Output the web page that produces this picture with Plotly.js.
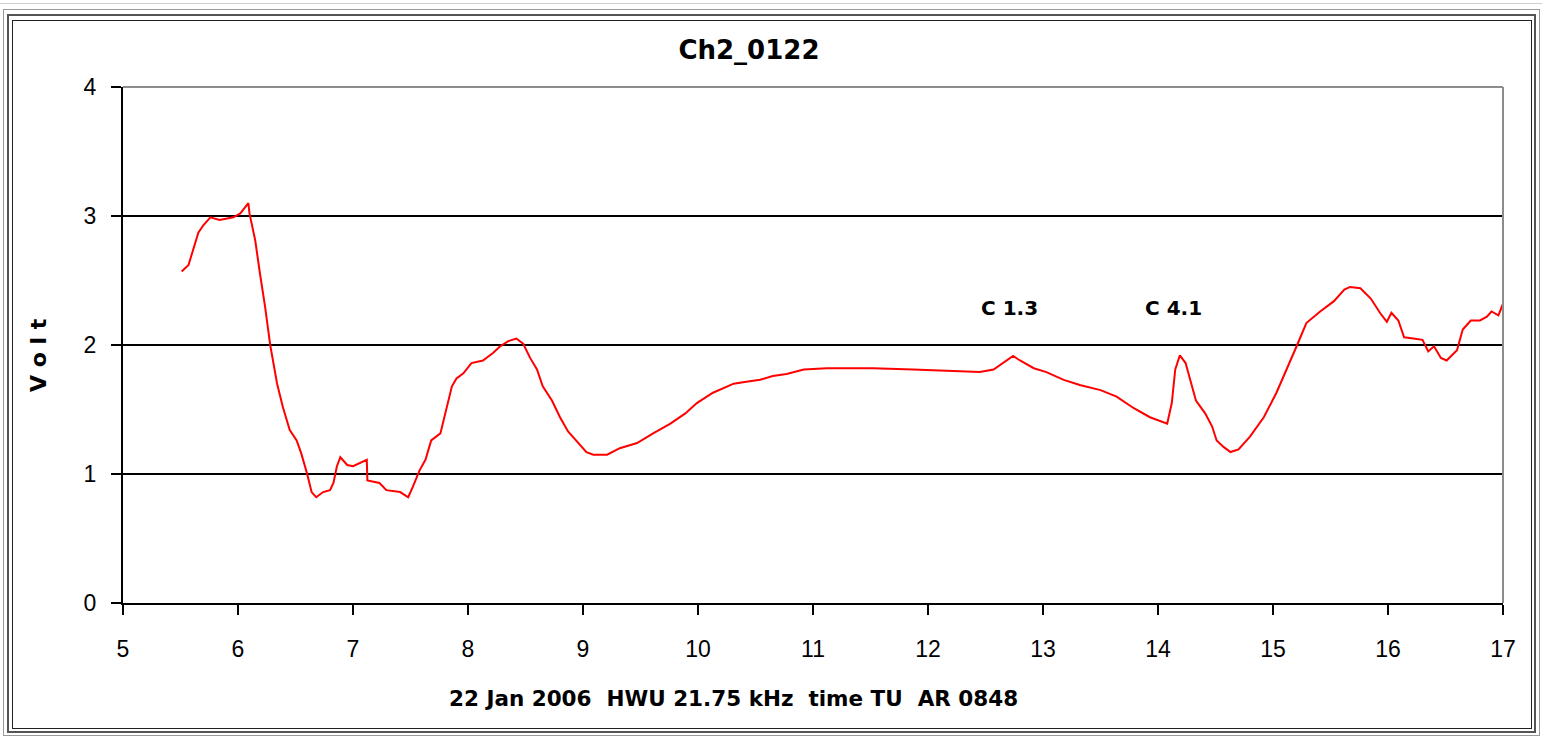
<!DOCTYPE html>
<html>
<head>
<meta charset="utf-8">
<script src="https://cdn.plot.ly/plotly-3.0.1.min.js"></script>
<style>
  html, body { margin: 0; padding: 0; background: #ffffff; }
  #wrap { position: relative; width: 1542px; height: 738px; overflow: hidden; background: #fff; }
  .fr { position: absolute; box-sizing: border-box; }
  #topline { position: absolute; left: 0; top: 3px; width: 1542px; height: 1px; background: #cfcfcf; }
  #chart { position: absolute; left: 0; top: 0; width: 1542px; height: 738px; }
</style>
</head>
<body>
<div id="wrap">
  <div id="topline"></div>
  <div class="fr" style="left:3px; top:9px; width:1537px; height:727px; border:1px solid #9a9a9a;"></div>
  <div class="fr" style="left:7px; top:14px; width:1529px; height:719px; border:2px solid #555;"></div>
  <div class="fr" style="left:12px; top:20px; width:1520px; height:709px; border:1px solid #222;"></div>
  <div id="chart"></div>
</div>
<script>
// Time (TU hours) and signal amplitude (Volt)
const timeTU = [5.51,5.57,5.60,5.655,5.70,5.76,5.84,5.96,6.02,6.09,6.10,6.15,6.19,6.235,6.28,6.34,6.39,6.45,6.51,6.55,
  6.60,6.64,6.68,6.74,6.80,6.83,6.86,6.89,6.95,7.00,7.12,7.125,7.23,7.29,7.41,7.48,7.52,7.58,7.63,7.68,
  7.76,7.81,7.86,7.90,7.96,8.03,8.13,8.22,8.28,8.35,8.42,8.48,8.54,8.60,8.65,8.73,8.80,8.87,8.95,9.03,
  9.09,9.21,9.32,9.47,9.61,9.76,9.89,9.99,10.13,10.31,10.42,10.54,10.65,10.77,10.92,11.12,11.29,11.52,11.87,12.16,
  12.45,12.57,12.655,12.74,12.80,12.92,13.03,13.18,13.32,13.50,13.64,13.79,13.93,14.08,14.12,14.15,14.19,14.24,14.28,14.33,
  14.41,14.47,14.51,14.57,14.63,14.70,14.80,14.92,15.03,15.12,15.21,15.29,15.41,15.53,15.62,15.67,15.76,15.85,15.93,15.99,
  16.03,16.09,16.14,16.22,16.30,16.35,16.40,16.46,16.51,16.60,16.65,16.72,16.80,16.86,16.90,16.96,17.00];
const volt = [2.57,2.62,2.71,2.87,2.93,2.99,2.97,2.99,3.02,3.10,3.02,2.81,2.56,2.30,2.00,1.70,1.52,1.34,1.26,1.16,
  1.005,0.86,0.82,0.86,0.875,0.93,1.06,1.13,1.07,1.06,1.11,0.95,0.93,0.875,0.86,0.82,0.90,1.03,1.11,1.26,
  1.315,1.50,1.68,1.74,1.78,1.86,1.88,1.94,1.99,2.03,2.05,2.01,1.90,1.81,1.68,1.57,1.44,1.33,1.25,1.17,
  1.15,1.15,1.20,1.24,1.315,1.39,1.47,1.55,1.63,1.70,1.715,1.73,1.76,1.775,1.81,1.82,1.82,1.82,1.81,1.80,
  1.79,1.81,1.86,1.915,1.88,1.82,1.79,1.73,1.69,1.65,1.60,1.51,1.44,1.39,1.55,1.81,1.92,1.86,1.73,1.57,
  1.47,1.37,1.26,1.21,1.17,1.19,1.29,1.44,1.63,1.81,2.00,2.17,2.26,2.34,2.43,2.45,2.44,2.36,2.25,2.18,
  2.25,2.19,2.06,2.05,2.04,1.95,1.99,1.90,1.88,1.96,2.12,2.19,2.19,2.22,2.26,2.23,2.32];

const xTicks = [5,6,7,8,9,10,11,12,13,14,15,16,17];
const yTicks = [0,1,2,3,4];
const labelTexts = ["C 1.3", "C 4.1"];
const labelX = [12.713, 14.139];
const labelY = [2.29, 2.29];
const chartTitle = "Ch2_0122";
const xTitle = "22 Jan 2006\u00A0\u00A0HWU 21.75 kHz\u00A0\u00A0time TU\u00A0\u00A0AR 0848";
const yTitle = "V o l t";

const boldFont = 'DejaVu Sans';
const tickFont = {family: 'Liberation Sans, Arial, sans-serif', size: 23, color: '#000'};

const annotations = labelTexts.map((t, i) => ({
  text: '<b>' + t + '</b>', x: labelX[i], y: labelY[i], xref: 'x', yref: 'y',
  showarrow: false, font: {family: boldFont, size: 20, color: '#000'}
}));
annotations.push({
  text: '<b>' + xTitle + '</b>', xref: 'paper', yref: 'paper', x: 0.4424, y: -0.186,
  xanchor: 'center', yanchor: 'middle', showarrow: false,
  font: {family: boldFont, size: 21.5, color: '#000'}
});
annotations.push({
  text: '<b>' + yTitle + '</b>', xref: 'paper', yref: 'paper', x: -0.0616, y: 0.4806,
  xanchor: 'center', yanchor: 'middle', textangle: -90, showarrow: false,
  font: {family: boldFont, size: 22, color: '#000'}
});

const data = [{
  type: 'scatter', mode: 'lines', x: timeTU, y: volt,
  line: {color: '#ff0000', width: 2}, hoverinfo: 'x+y'
}];

const layout = {
  width: 1542, height: 738,
  margin: {l: 123, r: 39, t: 87, b: 135},
  paper_bgcolor: 'rgba(0,0,0,0)', plot_bgcolor: '#ffffff',
  showlegend: false,
  title: {
    text: '<b>' + chartTitle + '</b>', xref: 'paper', x: 0.4536, xanchor: 'center',
    yref: 'container', y: 0.932, yanchor: 'middle',
    font: {family: boldFont, size: 26, color: '#000'}
  },
  xaxis: {
    range: [5, 17], tickvals: xTicks, ticktext: xTicks.map(String),
    showgrid: false, zeroline: false,
    showline: true, linecolor: '#000', linewidth: 2,
    ticks: 'outside', ticklen: 10, tickwidth: 2, tickcolor: '#000',
    tickfont: tickFont, ticklabelstandoff: 14
  },
  yaxis: {
    range: [0, 4], tickvals: yTicks, ticktext: yTicks.map(String),
    showgrid: true, gridcolor: '#000', gridwidth: 2, zeroline: false,
    showline: true, linecolor: '#000', linewidth: 2,
    ticks: 'outside', ticklen: 10, tickwidth: 2, tickcolor: '#000',
    tickfont: tickFont, ticklabelstandoff: 10
  },
  shapes: [
    {type: 'line', xref: 'paper', yref: 'paper', x0: 0, x1: 1, y0: 1, y1: 1,
     line: {color: '#8c8c8c', width: 2}, layer: 'above'},
    {type: 'line', xref: 'paper', yref: 'paper', x0: 1, x1: 1, y0: 0, y1: 1,
     line: {color: '#8c8c8c', width: 2}, layer: 'above'}
  ],
  annotations: annotations
};

Plotly.newPlot('chart', data, layout, {displayModeBar: false, staticPlot: true});
</script>
</body>
</html>
